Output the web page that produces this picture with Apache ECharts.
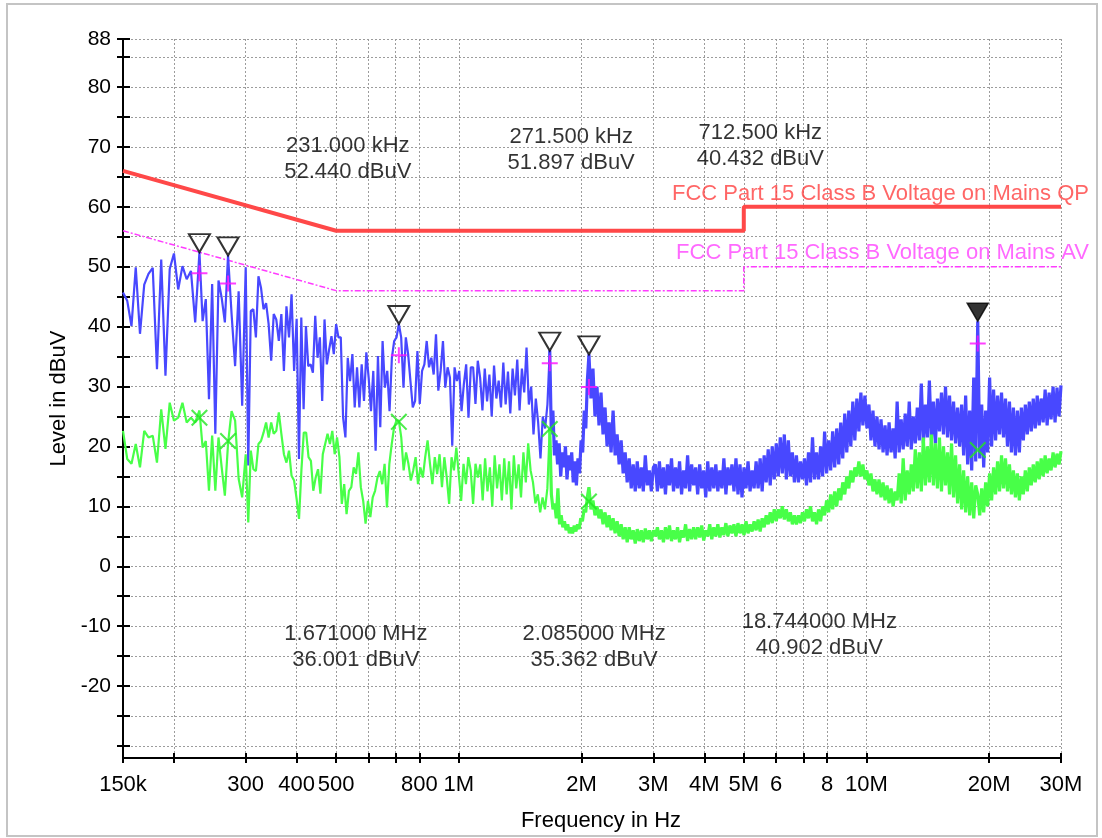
<!DOCTYPE html>
<html><head><meta charset="utf-8">
<script src="https://cdn.jsdelivr.net/npm/echarts@6.0.0/dist/echarts.min.js"></script>
<style>html,body{margin:0;padding:0;background:#fff}#c{width:1102px;height:838px}</style>
</head><body><div id="c"></div>
<script>
// ---------- axis ticks / labels ----------
const xTickValues = [0.15,0.2,0.3,0.4,0.5,0.6,0.7,0.8,1,2,3,4,5,6,7,8,10,20,30];
const xLabelValues = [0.15,0.3,0.4,0.5,0.8,1,2,3,4,5,6,8,10,20,30];
const xLabelTexts = ['150k','300','400','500','800','1M','2M','3M','4M','5M','6','8','10M','20M','30M'];
const yTickValues = [-30,-25,-20,-15,-10,-5,0,5,10,15,20,25,30,35,40,45,50,55,60,65,70,75,80,85,88];
const yLabelValues = [-20,-10,0,10,20,30,40,50,60,70,80,88];

// ---------- limit lines (MHz, dBuV) ----------
const qpLimit = [[0.15,66],[0.5,56],[5,56],[5,60],[30,60]];
const avLimit = [[0.15,56],[0.5,46],[5,46],[5,50],[30,50]];
const qpLimitName = 'FCC Part 15 Class B Voltage on Mains QP';
const avLimitName = 'FCC Part 15 Class B Voltage on Mains AV';

// ---------- markers ----------
const markerFreq = [0.231, 0.2715, 0.7125, 1.671, 2.085, 18.744];
const markerPeak = [52.44, 51.897, 40.432, 36.001, 35.362, 40.902];
const markerQP   = [48.9, 47.2, 35.2, 33.9, 29.9, 37.2];
const markerAV   = [24.8, 20.9, 24.1, 22.9, 10.8, 19.4];
const activeMarker = 5;

// ---------- sweep segments (MHz break points) ----------
const segBreaks = [0.15, 0.231, 0.2715, 0.3, 0.4, 0.7125, 1.671, 2.085, 3.0, 18.744, 30];
const denseFrom = 1.671; // above this the sweep is drawn as a dense band

// peak trace (blue), one array per segment
const peak1 = [45.7,44.3,40.1,49.9,38.8,47.0,48.8,49.8,32.9,51.2,31.8,49.6,52.2,46.2,50.1,47.9,49.3,40.7,52.44];
const peak2 = [52.44,40.9,44.6,27.9,47.1,22.1,47.7,44.8,40.7,51.897];
const peak3 = [51.897,42.1,33.4,45.9,26.8,49.9];
const peak4 = [49.9,16.8,42.6,42.9,38.2,48.4,46.5,42.9,43.9,40.4,34.3,42.1,41.2,37.6,42.1,32.6,43.4,38.2,45.4,32.6,41.3];
const peak5 = [41.3,17.9,41.5,26.2,40.1,33.4,33.7,32.3,41.8,34.8,38.2,27.6,41.2,33.7,36.2,38.4,35.4,40.4,38.2,38.2,24.8,21.5,34.8,30.9,35.4,26.5,33.2,26.5,33.7,27.6,35.7,31.5,25.9,32.6,19.3,35.1,23.2,37.6,29.8,32.6,25.9,34.8,37.6,38.2,40.432];
const peak6 = [40.432,38.2,29.8,38.2,35.4,30.9,26.5,27.6,35.9,27.1,32.6,33.7,37.6,33.2,34.8,32.0,38.7,29.3,32.6,37.6,29.8,33.2,31.5,20.1,33.2,30.9,32.6,25.9,30.4,33.7,24.8,33.2,33.2,27.1,34.3,31.5,26.0,33.0,27.5,32.0,25.0,33.5,28.0,31.0,26.5,34.0,27.0,32.5,25.5,33.0,28.5,34.5,26.0,33.0,29.0,36.5,27.0,30.0,22.0,28.0,24.0,18.0,25.0,23.0,27.0,36.001];
const peak7 = [36.001,22.0,26.0,18.5,21.0,17.0,20.5,15.0,19.0,16.5,20.0,14.5,18.5,16.0,19.0,14.0,17.5,13.5,18.0,15.5,21.0,19.0,26.0,23.0,31.0,35.362];
const peak8 = [35.362,28.0,33.0,25.0,30.0,23.5,29.0,22.0,26.5,20.0,24.0,19.0,26.0,18.5,22.0,17.0,21.0,15.5,19.0,14.0,18.0,13.0,17.0,12.5,17.5,13.0,16.5,12.5,18.5,13.5,16.0,12.5,16.5];
const peak9 = [16.5,
 17.0,12.5,17.5,13.0,16.5,12.0,17.0,13.5,18.0,12.5,
 16.5,13.0,17.5,12.0,16.0,13.0,18.5,12.5,17.0,13.5,
 16.5,12.0,17.0,13.0,16.0,11.5,17.5,12.5,16.5,13.0,
 17.0,12.5,16.0,13.0,18.0,12.0,16.5,13.5,17.0,12.5,
 18.0,12.0,17.0,11.5,16.5,13.0,17.5,12.5,16.0,13.0,
 17.5,13.0,18.0,12.5,18.5,14.0,19.5,13.5,20.0,14.5,
 20.5,15.0,21.5,15.5,22.0,14.5,21.0,15.0,19.0,14.0,
 18.5,14.0,17.5,14.5,18.0,13.5,19.0,14.0,21.5,14.5,
 19.0,14.5,20.0,15.0,22.5,15.5,21.0,16.0,22.5,16.5,
 23.0,17.0,24.0,18.0,25.5,19.0,26.0,20.0,27.5,21.0,
 28.0,22.5,29.0,23.5,28.5,23.0,27.0,21.0,26.0,20.0,
 25.0,19.5,24.5,19.0,23.5,18.5,24.0,19.0,23.0,18.0,
 27.5,19.0,24.5,19.5,25.5,20.0,27.5,19.5,25.0,20.5,
 26.5,21.0,30.5,20.5,27.0,21.5,31.0,21.0,27.5,20.5,
 28.0,22.5,29.0,22.0,30.0,21.5,28.5,21.0,27.5,20.5,
 26.5,20.0,27.0,18.5,28.5,17.0,26.0,16.0,31.5,17.5,
 40.902];
const peak10 = [40.902,18.0,27.0,16.5,26.0,19.0,31.5,20.0,29.5,21.0,28.5,22.0,29.0,21.5,28.0,20.0,27.5,19.0,26.5,18.5,26.0,19.0,26.5,21.0,27.0,22.0,27.5,22.5,28.0,23.0,28.5,23.5,28.0,24.0,29.5,23.5,29.0,24.5,30.0,24.0,29.8,25.0,30.2];

// average trace (green), one array per segment
const avg1 = [22.6,17.9,17.1,20.4,16.5,22.6,21.5,21.8,17.3,26.2,19.6,27.3,24.3,24.8,27.3,24.0,24.8,24.0,26.0];
const avg2 = [26.0,19.8,20.9,12.6,21.8,12.6,21.5,16.5,11.8,20.5];
const avg3 = [20.5,25.9,24.3,14.6,11.5,18.7];
const avg4 = [18.7,7.3,19.3,16.2,15.9,20.4,20.9,22.3,24.0,21.5,24.0,22.1,22.6,25.7,22.1,18.7,17.3,19.3,15.1,14.3,11.2];
const avg5 = [11.2,7.9,16.0,22.3,22.3,18.2,17.6,12.6,14.8,16.2,12.1,18.7,20.4,22.1,20.4,22.6,18.7,21.5,18.2,10.4,13.7,8.7,12.6,13.2,16.5,15.4,19.0,13.2,10.9,7.1,10.9,8.2,11.5,12.6,14.8,15.9,13.7,17.1,9.8,17.1,20.4,23.2,24.3,24.3];
const avg6 = [24.3,21.5,16.0,19.0,17.1,14.3,16.0,18.2,13.7,16.5,14.8,18.2,21.0,17.1,13.7,18.2,15.4,18.7,13.2,18.2,14.8,10.4,18.2,16.0,19.8,15.4,10.9,17.1,13.7,18.2,16.0,10.4,17.1,14.8,17.0,11.0,18.0,12.5,16.5,10.0,18.5,13.0,17.0,11.0,18.0,12.0,17.5,9.5,18.5,13.0,17.0,11.5,19.0,14.0,20.5,16.0,14.0,10.5,12.0,9.0,11.5,9.5,13.0,23.0];
const avg7 = [23.0,12.0,9.5,10.5,8.0,13.0,7.0,8.5,6.5,7.5,6.0,7.0,5.5,6.5,5.5,6.8,5.8,7.0,6.2,8.0,7.5,9.5,9.0,11.5,13.2];
const avg8 = [13.2,9.5,11.0,8.5,10.0,8.0,9.5,7.0,9.0,6.5,8.5,6.0,8.0,5.5,7.5,5.0,7.0,4.5,6.5,4.0,6.5,4.5,6.0,3.8,6.2,4.2,6.0,4.0,6.3,4.5,6.0,4.2,6.0];
const avg9 = [6.0,
 5.0,6.5,4.5,6.0,4.0,6.5,4.5,6.8,4.2,6.0,
 4.5,6.5,4.0,6.0,4.8,7.0,4.2,6.2,4.5,6.5,
 4.5,6.5,4.8,6.8,4.3,6.0,5.0,7.0,4.5,6.5,
 5.0,7.0,4.8,6.5,5.2,7.2,5.0,6.8,5.5,7.0,
 5.0,7.2,5.5,7.0,5.2,7.5,5.5,7.0,5.8,7.5,
 6.0,7.8,5.8,8.0,6.5,8.5,7.0,9.0,7.2,9.5,
 7.5,9.5,8.0,10.0,7.8,9.5,7.5,9.0,7.0,8.5,
 7.0,8.5,7.2,9.0,7.5,9.5,8.0,10.0,7.5,9.0,
 7.0,9.5,7.5,10.0,8.5,11.0,9.0,12.0,9.5,12.5,
 10.0,13.0,11.0,14.0,12.0,15.0,13.0,16.0,14.0,16.5,
 15.0,17.5,15.0,17.0,14.5,16.0,13.5,15.5,12.5,14.5,
 12.0,14.5,11.5,14.0,11.0,13.5,10.5,13.0,10.0,12.5,
 11.0,15.5,10.5,18.0,11.0,16.0,12.0,17.0,12.5,19.5,
 13.0,19.0,12.5,21.5,13.5,20.0,14.0,22.0,13.5,20.5,
 13.0,21.5,12.5,20.0,13.5,19.0,12.0,20.5,11.5,18.5,
 10.5,17.0,9.5,16.0,9.0,15.0,8.5,14.0,8.0,13.5,
 12.0];
const avg10 = [12.0,8.5,13.0,9.0,14.0,10.0,15.5,11.0,16.5,12.0,17.5,12.5,18.5,13.0,18.0,12.5,17.0,12.0,16.0,11.5,15.5,11.0,15.0,12.0,16.0,12.5,16.5,13.5,17.0,14.0,17.5,14.5,18.0,15.0,18.5,15.5,18.0,16.0,19.0,16.5,18.8,17.0,19.2];

const peakSegs = [peak1,peak2,peak3,peak4,peak5,peak6,peak7,peak8,peak9,peak10];
const avgSegs  = [avg1,avg2,avg3,avg4,avg5,avg6,avg7,avg8,avg9,avg10];

// sweep points are spread evenly (log) within each segment; shared end points are not repeated
function buildTrace(segs){
  const out = [];
  segs.forEach((vals, s) => {
    const f0 = segBreaks[s], f1 = segBreaks[s+1], n = vals.length;
    for (let i = (s === 0 ? 0 : 1); i < n; i++) {
      out.push([f0 * Math.pow(f1 / f0, i / (n - 1)), vals[i]]);
    }
  });
  return out;
}
const peakTrace = buildTrace(peakSegs);
const avgTrace = buildTrace(avgSegs);
const lowPart = t => t.filter(p => p[0] <= denseFrom * 1.000001);
const highPart = t => t.filter(p => p[0] >= denseFrom * 0.999999);

function fmtFreq(f){ return f < 1 ? (f*1000).toFixed(3) + ' kHz' : f.toFixed(6) + ' MHz'; }
const noteTexts = markerFreq.map((f,i) => fmtFreq(f) + '\n' + markerPeak[i].toFixed(3) + ' dBuV');
// where each note text is anchored (MHz, dBuV)
const noteAnchors = [[0.534,68.0],[1.886,69.5],[5.49,70.2],[0.559,-13.4],[2.147,-13.4],[7.66,-11.5]];

const FONT = '"Liberation Sans", Arial, sans-serif';
const chart = echarts.init(document.getElementById('c'), null, {renderer:'canvas'});

function xLabel(v){
  for (let i = 0; i < xLabelValues.length; i++) {
    if (Math.abs(Math.log(v / xLabelValues[i])) < 1e-6) return xLabelTexts[i];
  }
  return '';
}

const gridLine = {show:true, lineStyle:{color:'#9c9c9c', width:1, type:[2,2]}};
const triPath = 'path://M0,0 L20,0 L10,17 Z';
const plusPath = 'path://M7,0h2v16h-2z M0,7h16v2h-16z';
const crossPath = 'path://M0,1.4 L1.4,0 L16,14.6 L14.6,16 Z M14.6,0 L16,1.4 L1.4,16 L0,14.6 Z';
const BLUE = '#4848ff', GREEN = '#48ff48';

const option = {
  animation:false,
  backgroundColor:'#fff',
  textStyle:{fontFamily:FONT, color:'#000'},
  grid:{left:123, right:41, top:39, bottom:80, outerBoundsMode:'none', containLabel:false},
  graphic:[{type:'rect', shape:{x:7, y:4, width:1090, height:832}, style:{fill:'none', stroke:'#c4c4c4', lineWidth:2}, silent:true, z:-10}],
  xAxis:[{
    type:'log', min:0.15, max:30, logBase:10,
    name:'Frequency in Hz', nameLocation:'middle', nameGap:52,
    nameTextStyle:{color:'#000', fontSize:22, fontFamily:FONT, padding:[0,0,0,18]},
    axisLine:{show:true, onZero:false, lineStyle:{color:'#000', width:2}},
    axisTick:{show:true, inside:false, length:5, lineStyle:{color:'#000', width:2}, customValues:xTickValues},
    axisLabel:{show:true, color:'#000', fontSize:22, fontFamily:FONT, margin:16, customValues:xLabelValues, formatter:xLabel, showMinLabel:true, showMaxLabel:true},
    splitLine:gridLine, minorTick:{show:false}, minorSplitLine:{show:false}
  },{
    type:'log', min:0.15, max:30, logBase:10, position:'bottom',
    axisLine:{show:false, onZero:false},
    axisTick:{show:true, inside:true, length:5, lineStyle:{color:'#000', width:2}, customValues:xTickValues},
    axisLabel:{show:false}, splitLine:{show:false}
  }],
  yAxis:[{
    type:'value', min:-32, max:88,
    name:'Level in dBuV', nameLocation:'middle', nameGap:52,
    nameTextStyle:{color:'#000', fontSize:22, fontFamily:FONT},
    axisLine:{show:true, onZero:false, lineStyle:{color:'#000', width:2}},
    axisTick:{show:true, inside:false, length:6, lineStyle:{color:'#000', width:2}, customValues:yTickValues},
    axisLabel:{show:true, color:'#000', fontSize:21, fontFamily:FONT, margin:12, customValues:yLabelValues, showMinLabel:true, showMaxLabel:true},
    splitLine:gridLine
  },{
    type:'value', min:-32, max:88, position:'left',
    axisLine:{show:false, onZero:false},
    axisTick:{show:true, inside:true, length:7, lineStyle:{color:'#000', width:2}, customValues:yTickValues},
    axisLabel:{show:false}, splitLine:{show:false}
  }],
  series:[
    {type:'line', name:'QP limit', data:qpLimit, showSymbol:false, silent:true, z:2,
     lineStyle:{color:'#ff4848', width:4}},
    {type:'line', name:'AV limit', data:avLimit, showSymbol:false, silent:true, z:2,
     lineStyle:{color:'#ff3cff', width:1.5, type:[6,2,2,2]}},
    {type:'line', name:'Peak', data:lowPart(peakTrace), showSymbol:false, silent:true, z:3,
     sampling:null, lineStyle:{color:BLUE, width:2.2}},
    {type:'line', name:'Peak (dense)', data:highPart(peakTrace), showSymbol:false, silent:true, z:3,
     sampling:null, lineStyle:{color:BLUE, width:3.2, join:'bevel'}},
    {type:'line', name:'Average', data:lowPart(avgTrace), showSymbol:false, silent:true, z:4,
     lineStyle:{color:GREEN, width:2.2}},
    {type:'line', name:'Average (dense)', data:highPart(avgTrace), showSymbol:false, silent:true, z:4,
     lineStyle:{color:GREEN, width:3.2, join:'bevel'}},
    {type:'scatter', name:'Marker', silent:true, z:6,
     data:markerFreq.map((f,i) => ({value:[f, markerPeak[i]],
        itemStyle: i === activeMarker ? {color:'#000', borderColor:'#000', borderWidth:1.5}
                                      : {color:'rgba(255,255,255,0)', borderColor:'#000', borderWidth:2}})),
     symbol:triPath, symbolSize:[21,18], symbolOffset:[0,-9]},
    {type:'scatter', name:'QP', silent:true, z:7,
     data:markerFreq.map((f,i) => [f, markerQP[i]]),
     symbol:plusPath, symbolSize:16, itemStyle:{color:'#ff10ff'}},
    {type:'scatter', name:'AV', silent:true, z:7,
     data:markerFreq.map((f,i) => [f, markerAV[i]]),
     symbol:crossPath, symbolSize:17, itemStyle:{color:'#22e622'}},
    {type:'scatter', name:'Notes', silent:true, z:8, symbolSize:0,
     data:noteAnchors.map((a,i) => ({value:a, label:{formatter:noteTexts[i]}})),
     label:{show:true, position:'inside', color:'#000', fontSize:22, lineHeight:26, fontFamily:FONT, align:'center', verticalAlign:'middle'}},
    {type:'scatter', name:'Limit names', silent:true, z:8, symbolSize:0,
     data:[
       {value:qpLimit[qpLimit.length-1], label:{formatter:qpLimitName, color:'#ff4040', offset:[28,-13]}},
       {value:avLimit[avLimit.length-1], label:{formatter:avLimitName, color:'#ff44ff', offset:[28,-14]}}
     ],
     label:{show:true, position:'inside', fontSize:22, fontFamily:FONT, align:'right', verticalAlign:'middle'}}
  ]
};
chart.setOption(option);
</script>
</body></html>
